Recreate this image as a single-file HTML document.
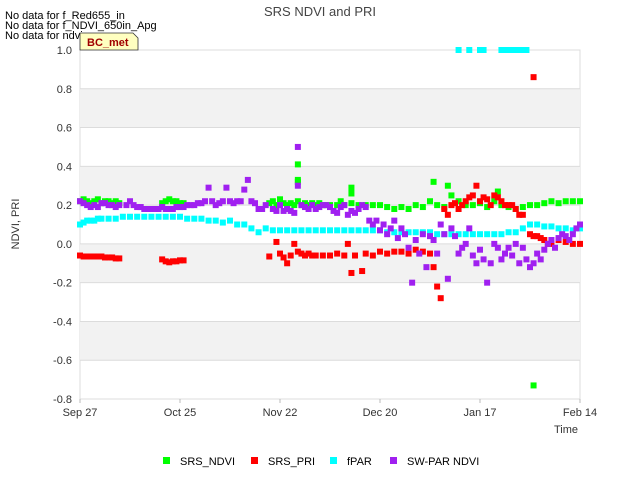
<!DOCTYPE html>
<html><head><meta charset="utf-8"><style>
body{margin:0;background:#fff;font-family:"Liberation Sans",sans-serif}
svg text{font-family:"Liberation Sans",sans-serif}
</style></head><body>
<svg id="c" width="640" height="480" xmlns="http://www.w3.org/2000/svg">
<text x="320" y="16" text-anchor="middle" font-size="13" fill="#444">SRS NDVI and PRI</text>
<text x="5" y="19" font-size="11" fill="#000">No data for f_Red655_in</text>
<text x="5" y="29" font-size="11" fill="#000">No data for f_NDVI_650in_Apg</text>
<text x="5" y="39" font-size="11" fill="#000">No data for ndvi</text>
<g id="plot"></g>
<text x="19" y="224" font-size="11" fill="#333" transform="rotate(-90 19 224)" text-anchor="middle">NDVI, PRI</text>
<text x="578" y="433" font-size="11" fill="#333" text-anchor="end">Time</text>
<g>
<path d="M80,33 H133 L138,38 V50 H80 Z" fill="#ffffc0" stroke="#333" stroke-width="0.8"/>
<text x="87" y="46" font-size="11" font-weight="bold" fill="#a00000">BC_met</text>
</g>
<g id="legend"></g>
</svg>
<script>
const yTicks=[1.0,0.8,0.6,0.4,0.2,0.0,-0.2,-0.4,-0.6,-0.8];
const xTickDays=[0,28,56,84,112,140];
const xTickLabels=["Sep 27","Oct 25","Nov 22","Dec 20","Jan 17","Feb 14"];
const seriesNames=["SRS_NDVI","SRS_PRI","fPAR","SW-PAR NDVI"];
const seriesColors=["#00ff00","#ff0000","#00ffff","#a020f0"];
const ndvi=[[0,0.22],[1,0.23],[2,0.22],[3,0.21],[4,0.22],[5,0.23],[6,0.21],[7,0.22],[8,0.22],[9,0.21],[10,0.22],[11,0.21],
[23,0.21],[24,0.22],[25,0.23],[26,0.22],[27,0.22],[28,0.21],[29,0.21],
[53,0.21],[54,0.22],[55,0.2],[56,0.23],[57,0.21],[58,0.2],[59,0.21],[60,0.2],[61,0.22],[61,0.41],[61,0.33],[61,0.32],[62,0.2],[63,0.21],[64,0.2],[65,0.21],[66,0.2],[67,0.21],[68,0.2],[69,0.2],[70,0.2],[72,0.2],[73,0.22],[74,0.2],[76,0.21],[76,0.29],[76,0.26],[78,0.2],[80,0.2],[82,0.2],[84,0.2],[86,0.19],[88,0.18],[90,0.19],[92,0.18],[94,0.2],[96,0.19],[98,0.22],[99,0.32],[100,0.2],[102,0.19],[103,0.3],[104,0.25],[106,0.22],[108,0.2],[110,0.2],[112,0.21],[114,0.19],[116,0.22],[117,0.27],[118,0.2],[120,0.19],[122,0.18],[124,0.19],[126,0.2],[128,0.2],[130,0.21],[132,0.22],[134,0.21],[136,0.22],[138,0.22],[140,0.22],[127,-0.73]];
const pri=[[0,-0.06],[1,-0.065],[2,-0.065],[3,-0.065],[4,-0.065],[5,-0.065],[6,-0.065],[7,-0.07],[8,-0.07],[9,-0.07],[10,-0.075],[11,-0.075],
[23,-0.08],[24,-0.09],[25,-0.095],[26,-0.09],[27,-0.09],[28,-0.085],[29,-0.085],
[53,-0.065],[55,0.01],[56,-0.05],[57,-0.07],[58,-0.1],[59,-0.06],[60,0.0],[61,-0.04],[62,-0.05],[63,-0.06],[64,-0.05],[65,-0.06],[66,-0.06],[68,-0.06],[70,-0.06],[72,-0.05],[74,-0.06],[75,0.0],[76,-0.15],[77,-0.06],[79,-0.14],[80,-0.05],[82,-0.06],[84,-0.04],[86,-0.05],[88,-0.04],[90,-0.04],[92,-0.05],[94,-0.03],[96,-0.04],[98,-0.05],[99,-0.12],[100,-0.22],[101,-0.28],[102,0.18],[103,0.15],[104,0.2],[105,0.21],[106,0.18],[107,0.2],[108,0.22],[109,0.24],[110,0.25],[111,0.3],[112,0.22],[113,0.24],[114,0.23],[115,0.2],[116,0.25],[117,0.24],[118,0.22],[119,0.2],[120,0.2],[121,0.2],[122,0.18],[123,0.15],[124,0.15],[127,0.86],[126,0.05],[127,0.04],[128,0.04],[129,0.03],[130,0.02],[131,0.0],[132,0.0],[134,0.02],[136,0.01],[138,0.0],[140,0.0]];
const fpar=[[0,0.1],[1,0.11],[2,0.12],[3,0.12],[4,0.12],[5,0.13],[6,0.13],[8,0.13],[10,0.13],[12,0.14],[14,0.14],[16,0.14],[18,0.14],[20,0.14],[22,0.14],[24,0.14],[26,0.14],[28,0.14],[30,0.13],[32,0.13],[34,0.13],[36,0.12],[38,0.12],[40,0.11],[42,0.12],[44,0.1],[46,0.1],[48,0.08],[50,0.06],[52,0.08],[54,0.07],[56,0.07],[58,0.07],[60,0.07],[62,0.07],[64,0.07],[66,0.07],[68,0.07],[70,0.07],[72,0.07],[74,0.07],[76,0.07],[78,0.07],[80,0.07],[82,0.07],[84,0.07],[86,0.06],[88,0.06],[90,0.06],[92,0.06],[94,0.06],[96,0.06],[98,0.06],[100,0.05],[102,0.05],[104,0.05],[106,0.05],[108,0.05],[110,0.05],[112,0.05],[114,0.05],[116,0.05],[118,0.05],[120,0.06],[122,0.06],[124,0.08],[126,0.1],[128,0.1],[130,0.09],[132,0.09],[134,0.08],[136,0.08],[138,0.07],[140,0.08],
[106,1.0],[109,1.0],[112,1.0],[113,1.0],[118,1.0],[119,1.0],[120,1.0],[121,1.0],[122,1.0],[123,1.0],[124,1.0],[125,1.0]];
const swpar=[[0,0.22],[1,0.21],[2,0.2],[3,0.19],[4,0.2],[5,0.19],[6,0.21],[7,0.21],[8,0.2],[9,0.2],[10,0.19],[11,0.2],[13,0.2],[14,0.22],[15,0.2],[16,0.19],[17,0.19],[18,0.18],[19,0.18],[20,0.18],[21,0.18],[22,0.18],[23,0.19],[24,0.18],[25,0.18],[26,0.18],[27,0.19],[28,0.19],[29,0.19],[30,0.2],[31,0.2],[32,0.2],[33,0.21],[34,0.21],[35,0.22],[36,0.29],[37,0.22],[38,0.2],[39,0.21],[40,0.22],[41,0.29],[42,0.22],[43,0.21],[44,0.22],[45,0.22],[46,0.28],[47,0.33],[48,0.22],[49,0.21],[50,0.18],[51,0.18],[52,0.2],[54,0.18],[55,0.17],[56,0.2],[57,0.17],[58,0.18],[59,0.17],[60,0.16],[61,0.5],[61,0.3],[62,0.2],[63,0.19],[64,0.18],[65,0.2],[66,0.18],[67,0.19],[68,0.2],[69,0.2],[70,0.19],[71,0.17],[72,0.16],[73,0.19],[74,0.2],[75,0.15],[76,0.17],[77,0.16],[78,0.18],[79,0.2],[80,0.19],[81,0.12],[82,0.1],[83,0.12],[84,0.07],[85,0.1],[86,0.05],[87,0.08],[88,0.12],[89,0.03],[90,0.08],[91,0.05],[92,-0.02],[93,-0.2],[94,0.02],[95,-0.05],[96,0.05],[97,-0.12],[98,0.04],[99,0.02],[100,-0.05],[101,0.1],[102,0.05],[103,-0.18],[104,0.08],[105,0.04],[106,-0.05],[107,-0.02],[108,0.0],[109,0.08],[110,-0.06],[111,-0.1],[112,-0.03],[113,-0.08],[114,-0.2],[115,-0.1],[116,0.0],[117,-0.02],[118,-0.08],[119,-0.05],[120,-0.02],[121,-0.06],[122,0.0],[123,-0.1],[124,-0.02],[125,-0.08],[126,-0.12],[127,-0.1],[128,-0.05],[129,-0.08],[130,-0.03],[131,0.0],[132,0.02],[133,-0.02],[134,0.03],[135,0.05],[136,0.04],[137,0.02],[138,0.05],[139,0.08],[140,0.1]];
const allSeries=[ndvi,pri,fpar,swpar];

const NS="http://www.w3.org/2000/svg";
const X0=80,X1=580,Y0=50,Y1=399;
function xs(d){return X0+(d/140)*(X1-X0);}
function ys(v){return Y0+(1.0-v)/1.8*(Y1-Y0);}
function el(t,a,p){const e=document.createElementNS(NS,t);for(const k in a)e.setAttribute(k,a[k]);p.appendChild(e);return e;}
const plot=document.getElementById('plot');
const bg=el('rect',{x:X0,y:Y0,width:X1-X0,height:Y1-Y0,fill:'#fff',stroke:'#dcdcdc'},plot);


for(let i=0;i<yTicks.length-1;i++){
  const top=yTicks[i],bot=yTicks[i+1];
  if(i%2===1){
    const b=el('rect',{x:X0,y:ys(top),width:X1-X0,height:ys(bot)-ys(top),fill:'#f2f2f2'},plot);
    
    
  }
}
yTicks.forEach(v=>{
  const g=el('line',{x1:X0,x2:X1,y1:ys(v),y2:ys(v),stroke:'#dcdcdc','stroke-width':1},plot);
  
  
  const t=el('text',{x:72,y:ys(v)+4,'text-anchor':'end','font-size':11,fill:'#333'},plot);
  t.textContent=v.toFixed(1);
  
  
});
xTickDays.forEach((d,i)=>{
  const g=el('line',{x1:xs(d),x2:xs(d),y1:Y1,y2:Y1+4,stroke:'#bbb','stroke-width':1},plot);
  
  
  const t=el('text',{x:xs(d),y:416,'text-anchor':'middle','font-size':11,fill:'#333'},plot);
  t.textContent=xTickLabels[i];
  
  
});
const names=['ndvi-point','pri-point','fpar-point','swpar-point'];
allSeries.forEach((s,si)=>{
  s.forEach(p=>{
    const r=el('rect',{x:xs(p[0])-3,y:ys(p[1])-3,width:6,height:6,fill:seriesColors[si]},plot);
    
    
  });
});
const leg=document.getElementById('legend');
const lx=[163,251,330,390];
seriesNames.forEach((n,i)=>{
  const r=el('rect',{x:lx[i],y:457,width:7,height:7,fill:seriesColors[i]},leg);
  
  
  const t=el('text',{x:lx[i]+17,y:465,'font-size':11,fill:'#000'},leg);
  t.textContent=n;
  
  
});
</script>
</body></html>
